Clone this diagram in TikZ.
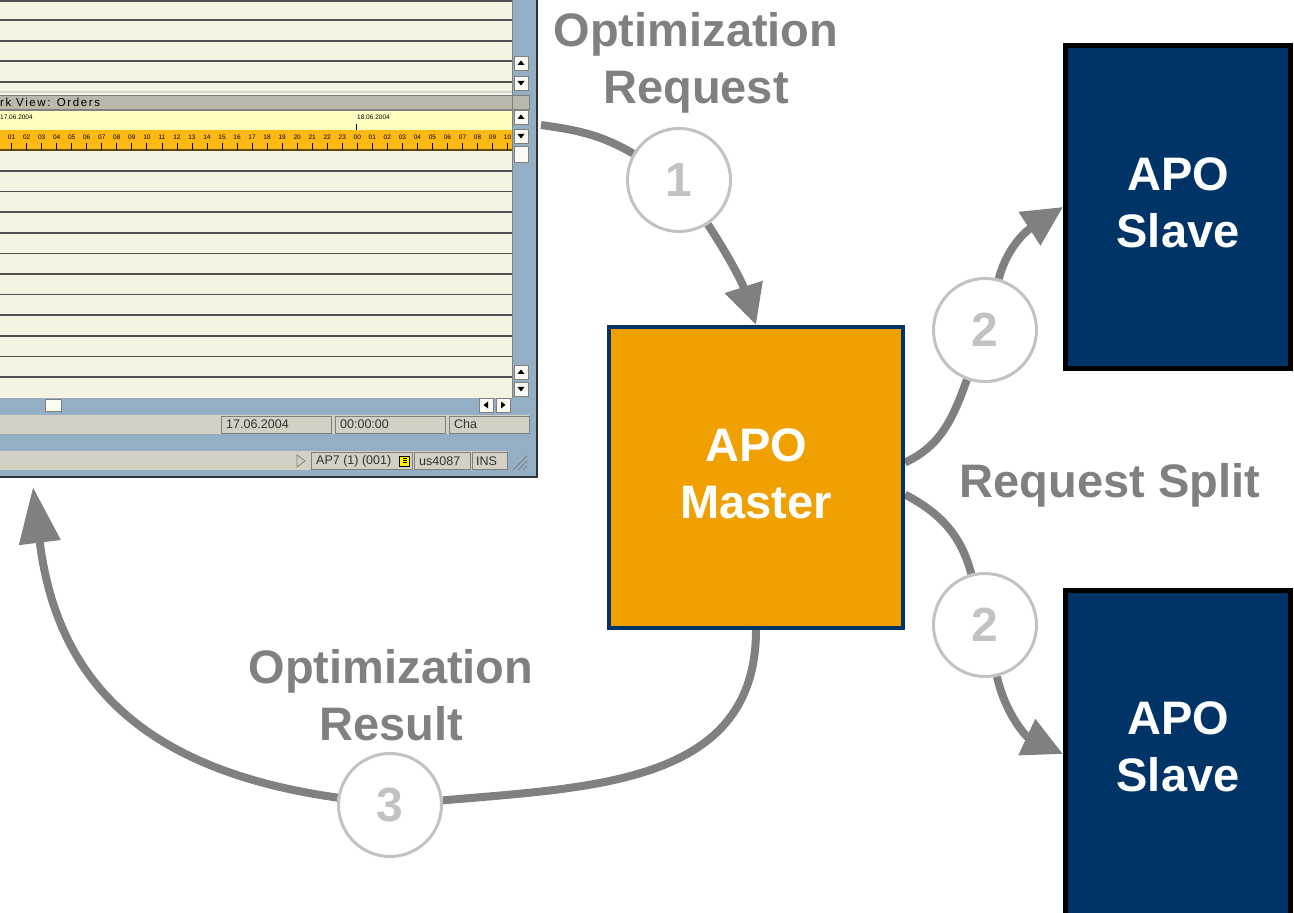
\documentclass[tikz,border=0pt]{standalone}
\usepackage{fontspec}
\setmainfont{Liberation Sans}
\newfontfamily\guiwide[LetterSpace=14]{Liberation Sans}
\usetikzlibrary{arrows.meta}
\usetikzlibrary{backgrounds}

\definecolor{apoblue}{RGB}{0,51,102}
\definecolor{apoorange}{RGB}{240,160,0}
\definecolor{flowgray}{RGB}{128,128,128}
\definecolor{ringgray}{RGB}{194,194,194}
\definecolor{guicream}{RGB}{245,243,226}
\definecolor{guiblue}{RGB}{148,175,196}
\definecolor{guiheader}{RGB}{186,184,170}
\definecolor{guiyellow}{RGB}{255,255,192}
\definecolor{guiorange}{RGB}{253,185,19}
\definecolor{guistatus}{RGB}{212,208,196}
\definecolor{guiline}{RGB}{80,80,80}
\definecolor{guidark}{RGB}{50,50,50}
\definecolor{guibtnfill}{RGB}{250,250,242}

\tikzset{
  apobox/.style={draw, line width=4pt, align=center, text=white, inner sep=0pt, text depth=8pt,
    font=\fontsize{47}{57}\selectfont\bfseries},
  master/.style={apobox, draw=apoblue, fill=apoorange, minimum width=294pt, minimum height=301pt},
  slave/.style={apobox, draw=black, line width=5pt, fill=apoblue, minimum width=225pt, minimum height=323pt},
  numring/.style={circle, draw=ringgray, line width=3pt, fill=white, text=ringgray,
    minimum size=103pt, inner sep=0pt, font=\fontsize{48}{48}\selectfont\bfseries},
  steplbl/.style={align=center, text=flowgray, inner sep=0pt, font=\fontsize{47}{57}\selectfont\bfseries},
  flow/.style={draw=flowgray, line width=8pt, -{Triangle[length=40pt,width=38pt]}},
  guitxt/.style={inner sep=0pt, anchor=west, text=guidark, font=\fontsize{12.5}{12.5}\selectfont},
  guihour/.style={inner sep=0pt, text=black, font=\fontsize{6.5}{6.5}\selectfont},
  guifield/.style={draw=gray, line width=0.8pt},
}

% scroll button of the gui window: x, y, direction
\newcommand{\guibtn}[3]{%
  \filldraw[fill=guibtnfill, draw=gray, line width=0.8pt] (#1-7,#2-7) rectangle (#1+7,#2+7);
  \fill[black, shift={(#1,#2)}, rotate=#3] (2.5,0) -- (-2,3.5) -- (-2,-3.5) -- cycle;
}

\begin{document}
\begin{tikzpicture}[x=1pt, y=1pt]
   \useasboundingbox (0,0) rectangle (1294,913);

   % boxes
   \node[master] (master) at (756,435.5) {APO\\Master};
   \node[slave] (slave1) at (1178,706) {APO\\Slave};
   \node[slave, minimum height=327pt, text depth=15pt] (slave2) at (1178,159) {APO\\Slave};

   % numbered steps
   \node[numring] (n1) at (679,733) {1};
   \node[numring] (n2a) at (985,583) {2};
   \node[numring] (n2b) at (985,288) {2};
   \node[numring] (n3) at (390,108) {3};

   \node[steplbl] (reqlbl) at (696,850) {Optimization\\Request};
   \node[steplbl] (splitlbl) at (1110,428) {Request Split};
   \node[steplbl] (reslbl) at (391,218) {Optimization\\Result};

   \coordinate (reqstart) at (541,788);
   \coordinate (resend) at (33,426);

   \begin{scope}[on background layer]
   % gui window (image coordinates)
   \begin{scope}[shift={(0,913)}, yscale=-1]
      \fill[guiblue] (0,0) rectangle (537,477);
      \fill[guicream] (0,0) rectangle (512,398);
      \foreach \y in {1,20,41,61,82}
         \draw[guiline, line width=1.5pt] (0,\y) -- (512,\y);
      \draw[gray!35, line width=2pt] (0,92) -- (512,92);
      \filldraw[fill=guiheader, draw=gray, line width=0.8pt] (-1,95) rectangle (529,109);
      \node[guitxt, text=black, font=\guiwide\fontsize{11.5}{11.5}\selectfont] (hdr) at (0,102.5) {rk View: Orders};
      % date row
      \filldraw[fill=guiyellow, draw=gray, line width=0.8pt] (-1,110) rectangle (512,130);
      \node[guihour, anchor=west] (day1) at (0,117) {17.06.2004};
      \node[guihour, anchor=west] (day2) at (357,117) {18.06.2004};
      \draw[black, line width=1pt] (356,124) -- (356,131);
      % hour row
      \fill[guiorange] (0,130) rectangle (512,150);
      \draw[black!60!guiorange, line width=1.2pt] (0,150) -- (512,150);
      \foreach \k in {0,...,33} {
         \pgfmathtruncatemacro\h{mod(\k+1,24)}
         \node[guihour] (h\k) at (11.6+15.03*\k,137) {\ifnum\h<10 0\fi\h};
         \draw[black, line width=0.8pt] (11.6+15.03*\k,143) -- ++(0,7);
      }
      % lower rows
      \foreach \i in {0,...,10}
         \draw[guiline, line width=1.5pt] (0,171+20.6*\i) -- (512,171+20.6*\i);
      \draw[gray, line width=0.8pt] (512.5,0) -- (512.5,398);
      % scroll bars
      \guibtn{521}{63}{-90}
      \guibtn{521}{83}{90}
      \guibtn{521}{117}{-90}
      \guibtn{521}{136}{90}
      \filldraw[fill=guibtnfill, draw=gray, line width=0.8pt] (514,146) rectangle (528,162);
      \guibtn{521}{372}{-90}
      \guibtn{521}{389}{90}
      \filldraw[fill=guibtnfill, draw=gray, line width=0.8pt] (45,399) rectangle (61,411);
      \guibtn{486}{405}{180}
      \guibtn{503}{405}{0}
      % status bars
      \fill[guistatus] (0,415) rectangle (529,434);
      \draw[guifield] (221,416) rectangle (331,433);
      \draw[guifield] (335,416) rectangle (445,433);
      \draw[guifield] (449,416) rectangle (529,433);
      \node[guitxt] (sdate) at (226,424.5) {17.06.2004};
      \node[guitxt] (stime) at (340,424.5) {00:00:00};
      \node[guitxt] (smode) at (454,424.5) {Cha};
      \fill[guistatus] (0,451) rectangle (507,470);
      \draw[gray, line width=0.8pt] (297,455) -- (305,461) -- (297,467) -- cycle;
      \draw[guifield] (311,452) rectangle (412,469);
      \draw[guifield] (414,452) rectangle (470,469);
      \draw[guifield] (472,452) rectangle (507,469);
      \node[guitxt] (ssys) at (316,461) {AP7 (1) (001)};
      \node[guitxt] (shost) at (419,461) {us4087};
      \node[guitxt] (sins) at (476,461) {INS};
      \filldraw[fill=yellow, draw=black, line width=0.8pt] (399,456) rectangle (409,466);
      \draw[black, line width=1pt] (403,459) -- (407,459) (403,461) -- (407,461) (403,463) -- (407,463);
      \foreach \d in {4,9,14}
         \draw[gray, line width=0.8pt] (527-\d,470) -- (527,470-\d);
      \draw[guidark, line width=1.5pt] (0,477) -- (537,477) -- (537,0);
   \end{scope}

   % flows
   \draw[flow] (reqstart) to[out=-8,in=150] (n1) to[out=-57,in=108] (master.north);
   \draw[flow] ([yshift=15pt]master.east) to[out=25,in=-110] (n2a) to[out=75,in=213] (slave1.west);
   \draw[flow] ([yshift=-17pt]master.east) to[out=-28,in=105] (n2b) to[out=-77,in=155] (slave2.west);
   \draw[flow, -{Triangle[length=56pt,width=40pt]}] (master.south) to[out=-90,in=5,looseness=1.1] (n3)
      to[out=172,in=-83,looseness=1.15] (resend);
   \end{scope}
\end{tikzpicture}
\end{document}
